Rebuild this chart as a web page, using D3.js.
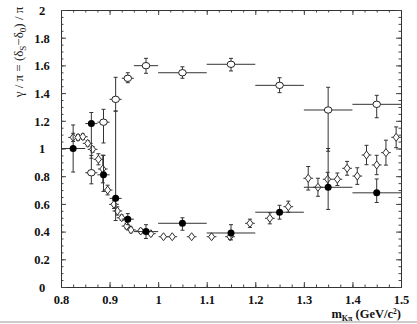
<!DOCTYPE html>
<html>
<head>
<meta charset="utf-8">
<script src="https://cdnjs.cloudflare.com/ajax/libs/d3/7.8.5/d3.min.js"></script>
<style>
  body { margin: 0; background: #fff; }
  svg { display: block; }
  .tick text { font-family: "Liberation Serif", "DejaVu Serif", serif; font-weight: bold; font-size: 12.5px; fill: #111; }
</style>
</head>
<body>
<div id="chart"></div>
<script>
// tick labels
var xTicks = [0.8, 0.9, 1.0, 1.1, 1.2, 1.3, 1.4, 1.5],
    xTickLabels = ["0.8", "0.9", "1", "1.1", "1.2", "1.3", "1.4", "1.5"],
    yTicks = [0, 0.2, 0.4, 0.6, 0.8, 1.0, 1.2, 1.4, 1.6, 1.8, 2.0],
    yTickLabels = ["0", "0.2", "0.4", "0.6", "0.8", "1", "1.2", "1.4", "1.6", "1.8", "2"];

// filled circles
var filledX   = [0.825, 0.8625, 0.8875, 0.9125, 0.9375, 0.975, 1.05, 1.15, 1.25, 1.35, 1.45],
    filledY   = [1.00, 1.18, 0.81, 0.64, 0.49, 0.40, 0.46, 0.39, 0.54, 0.72, 0.68],
    filledXLo = [0.80, 0.85, 0.875, 0.90, 0.925, 0.95, 1.0, 1.1, 1.2, 1.3, 1.4],
    filledXHi = [0.85, 0.875, 0.90, 0.925, 0.95, 1.0, 1.1, 1.2, 1.3, 1.4, 1.5],
    filledYLo = [0.83, 0.93, 0.69, 0.48, 0.45, 0.35, 0.41, 0.34, 0.49, 0.56, 0.61],
    filledYHi = [1.17, 1.26, 0.95, 1.27, 0.53, 0.45, 0.50, 0.45, 0.59, 1.00, 0.78];

// open circles
var openX   = [0.8625, 0.8875, 0.9125, 0.9375, 0.975, 1.05, 1.15, 1.25, 1.35, 1.45],
    openY   = [0.825, 1.19, 1.355, 1.507, 1.598, 1.547, 1.608, 1.456, 1.278, 1.319],
    openXLo = [0.85, 0.875, 0.90, 0.925, 0.95, 1.0, 1.1, 1.2, 1.3, 1.4],
    openXHi = [0.875, 0.90, 0.925, 0.95, 1.0, 1.1, 1.2, 1.3, 1.4, 1.5],
    openYLo = [0.745, 1.04, 1.27, 1.475, 1.543, 1.507, 1.56, 1.403, 0.98, 1.222],
    openYHi = [0.95, 1.283, 1.514, 1.547, 1.651, 1.59, 1.651, 1.511, 1.442, 1.384];

// open diamonds (symmetric errors)
var diamondX = [0.825, 0.835, 0.845, 0.855, 0.865, 0.877, 0.886, 0.896, 0.909, 0.916, 0.925,
                0.935, 0.944, 0.964, 0.985, 1.011, 1.029, 1.069, 1.11, 1.148, 1.189, 1.23,
                1.268, 1.309, 1.329, 1.349, 1.369, 1.389, 1.41, 1.429, 1.45, 1.469, 1.49],
    diamondY = [1.08, 1.08, 1.085, 1.037, 0.994, 0.922, 0.852, 0.70, 0.597, 0.549, 0.50,
                0.44, 0.412, 0.404, 0.385, 0.363, 0.363, 0.363, 0.363, 0.363, 0.46, 0.496,
                0.58, 0.785, 0.72, 0.778, 0.778, 0.857, 0.801, 0.953, 0.881, 0.970, 1.081],
    diamondErr = [0.03, 0.02, 0.02, 0.02, 0.02, 0.04, 0.10, 0.035, 0.03, 0.03, 0.02,
                  0.02, 0.02, 0.015, 0.015, 0.01, 0.01, 0.01, 0.01, 0.02, 0.03, 0.04,
                  0.04, 0.085, 0.065, 0.05, 0.045, 0.05, 0.06, 0.07, 0.07, 0.09, 0.075];

var W = 417, H = 324,
    margin = {top: 10, right: 16, bottom: 37, left: 61},
    width = W - margin.left - margin.right,
    height = H - margin.top - margin.bottom;

var svg = d3.select("#chart").append("svg")
    .attr("width", W)
    .attr("height", H);

var g = svg.append("g")
    .attr("transform", "translate(" + margin.left + "," + margin.top + ")");

var x = d3.scaleLinear().domain([0.8, 1.5]).range([0, width]),
    y = d3.scaleLinear().domain([0, 2]).range([height, 0]);

var xMinor = d3.range(0.8, 1.5001, 0.025),
    yMinor = d3.range(0, 2.0001, 0.05);

// minor ticks, all four sides, pointing in
function minorAxis(axis, vals) {
    return axis.tickValues(vals).tickSize(-2.5).tickFormat("");
}
g.append("g").attr("transform", "translate(0," + height + ")")
    .call(minorAxis(d3.axisBottom(x), xMinor));
g.append("g").call(minorAxis(d3.axisTop(x), xMinor));
g.append("g").call(minorAxis(d3.axisLeft(y), yMinor));
g.append("g").attr("transform", "translate(" + width + ",0)")
    .call(minorAxis(d3.axisRight(y), yMinor));

// major ticks
g.append("g").attr("class", "xaxis")
    .attr("transform", "translate(0," + height + ")")
    .call(d3.axisBottom(x).tickValues(xTicks).tickSize(-5).tickPadding(13)
        .tickFormat(function(d, i) { return xTickLabels[i]; }));
g.append("g").call(d3.axisTop(x).tickValues(xTicks).tickSize(-5).tickFormat(""));
g.append("g").attr("class", "yaxis")
    .call(d3.axisLeft(y).tickValues(yTicks).tickSize(-5).tickPadding(12)
        .tickFormat(function(d, i) { return yTickLabels[i]; }));
g.append("g").attr("transform", "translate(" + width + ",0)")
    .call(d3.axisRight(y).tickValues(yTicks).tickSize(-5).tickFormat(""));

g.selectAll(".domain").attr("stroke", "#333");
g.selectAll(".tick line").attr("stroke", "#444");
g.select(".yaxis").selectAll(".tick text")
    .attr("text-anchor", "middle").attr("x", -19).attr("dy", "0.35em");
g.select(".xaxis").selectAll(".tick text").attr("dy", "0.3em");

// error bars helper
function errorBars(xs, ys, xlo, xhi, ylo, yhi) {
    var eb = g.append("g").attr("stroke", "#333").attr("stroke-width", 1).attr("fill", "none");
    xs.forEach(function(d, i) {
        var cx = x(d), cy = y(ys[i]);
        eb.append("line").attr("x1", cx).attr("x2", cx)
            .attr("y1", y(ylo[i])).attr("y2", y(yhi[i]));
        eb.append("line").attr("x1", cx - 2).attr("x2", cx + 2)
            .attr("y1", y(ylo[i])).attr("y2", y(ylo[i]));
        eb.append("line").attr("x1", cx - 2).attr("x2", cx + 2)
            .attr("y1", y(yhi[i])).attr("y2", y(yhi[i]));
        eb.append("line").attr("x1", x(xlo[i])).attr("x2", x(xhi[i]))
            .attr("y1", cy).attr("y2", cy);
    });
}

// diamonds
errorBars(diamondX, diamondY,
    diamondX.map(function(d) { return d - 0.01; }),
    diamondX.map(function(d) { return d + 0.01; }),
    diamondY.map(function(d, i) { return d - diamondErr[i]; }),
    diamondY.map(function(d, i) { return d + diamondErr[i]; }));
g.selectAll(".diamond")
    .data(diamondX)
    .enter()
    .append("path")
    .attr("d", function(d, i) {
        var cx = x(d), cy = y(diamondY[i]);
        return "M" + cx + "," + (cy - 4) + "L" + (cx + 3) + "," + cy +
               "L" + cx + "," + (cy + 4) + "L" + (cx - 3) + "," + cy + "Z";
    })
    .attr("fill", "#fff")
    .attr("stroke", "#333")
    .attr("stroke-width", 1);

// open circles
errorBars(openX, openY, openXLo, openXHi, openYLo, openYHi);
g.selectAll(".open")
    .data(openX)
    .enter()
    .append("ellipse")
    .attr("cx", function(d) { return x(d); })
    .attr("cy", function(d, i) { return y(openY[i]); })
    .attr("rx", 3.8)
    .attr("ry", 3.2)
    .attr("fill", "#fff")
    .attr("stroke", "#222")
    .attr("stroke-width", 1);

// filled circles
errorBars(filledX, filledY, filledXLo, filledXHi, filledYLo, filledYHi);
g.selectAll(".filled")
    .data(filledX)
    .enter()
    .append("circle")
    .attr("cx", function(d) { return x(d); })
    .attr("cy", function(d, i) { return y(filledY[i]); })
    .attr("r", 3.5)
    .attr("fill", "#000");

// axis titles
var ytitle = svg.append("text")
    .attr("transform", "translate(23,52) rotate(-90)")
    .attr("text-anchor", "middle")
    .style("font-family", "'Liberation Serif', serif")
    .style("font-size", "13px")
    .attr("fill", "#222");
ytitle.append("tspan").text("\u03b3 / \u03c0 = (\u03b4");
ytitle.append("tspan").attr("dy", 3).style("font-size", "9px").text("S");
ytitle.append("tspan").attr("dy", -3).text("\u2212\u03b4");
ytitle.append("tspan").attr("dy", 3).style("font-size", "9px").text("0");
ytitle.append("tspan").attr("dy", -3).text(") / \u03c0");

var xtitle = svg.append("text")
    .attr("x", 401)
    .attr("y", 318)
    .attr("text-anchor", "end")
    .style("font-family", "'Liberation Serif', serif")
    .style("font-weight", "bold")
    .style("font-size", "12.5px")
    .attr("fill", "#111");
xtitle.append("tspan").text("m");
xtitle.append("tspan").attr("dy", 3).style("font-size", "8px").text("K\u03c0");
xtitle.append("tspan").attr("dy", -3).text(" (GeV/c");
xtitle.append("tspan").attr("dy", -4).style("font-size", "7.5px").text("2");
xtitle.append("tspan").attr("dy", 4).text(")");

// grey rule along the bottom edge
svg.append("line")
    .attr("x1", 0).attr("x2", W)
    .attr("y1", 322).attr("y2", 322)
    .attr("stroke", "#bbb")
    .attr("stroke-width", 1.5);
</script>
</body>
</html>
